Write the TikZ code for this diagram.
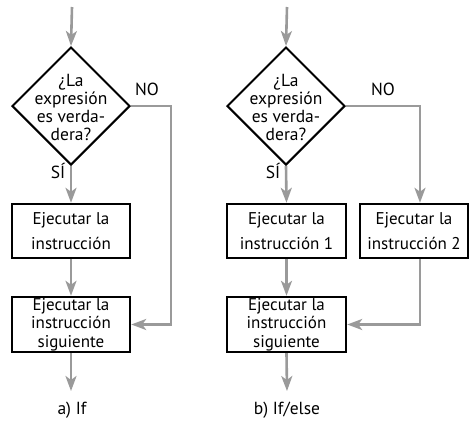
\documentclass[tikz,border=0pt]{standalone}
\usepackage{fontspec}
\setmainfont{PT Sans}
\usetikzlibrary{shapes.geometric,arrows.meta}
\definecolor{arrgray}{HTML}{9A9A9A}
\tikzset{
  arr/.style={draw=arrgray, line width=2.6pt, -{Stealth[length=15pt,width=11pt,inset=4pt]}},
  dec/.style={draw, line width=2pt, shape=diamond, aspect=1, minimum width=118pt, minimum height=118pt, inner sep=0pt},
  dectext/.style={align=center, font=\fontsize{17.5}{18}\selectfont, inner sep=0pt},
  box/.style={draw, line width=2.4pt, rectangle, inner sep=0pt, align=center},
  boxtwo/.style={box, font=\fontsize{17}{25}\selectfont},
  boxthree/.style={box, font=\fontsize{17}{18.5}\selectfont},
  lbl/.style={font=\fontsize{17.5}{18}\selectfont, inner sep=0pt}
}
\begin{document}
\begin{tikzpicture}[x=1pt,y=-1pt]
\useasboundingbox (0,0) rectangle (469,421);
% ---- left panel: If ----
\coordinate (s1) at (72,7);
\node[dec] (d1) at (71,106) {};
\node[dectext] (d1t) at (71,107) {¿La\\expresión\\es verda-\\dera?};
\node[boxtwo, minimum width=118pt, minimum height=54pt] (b1) at (71,231) {Ejecutar la\\instrucción};
\node[boxthree, minimum width=118pt, minimum height=55pt] (b2) at (71,324.5) {Ejecutar la\\instrucción\\siguiente};
\coordinate (e1) at (71,391);
\coordinate (n1) at (171,106);
\node[lbl] (si1) at (58,171) {SÍ};
\node[lbl] (no1) at (147,89) {NO};
\node[lbl] (cap1) at (72,410) {a) If};
\draw[arr] (s1) -- (d1.north);
\draw[arr] (d1.south) -- (b1.north);
\draw[arr] (b1.south) -- (b2.north);
\draw[arr] (b2.south) -- (e1);
\draw[arr] (d1.east) -- (n1) |- (b2.east);
% ---- right panel: If/else ----
\coordinate (s2) at (287,7);
\node[dec] (d2) at (286,106) {};
\node[dectext] (d2t) at (286,107) {¿La\\expresión\\es verda-\\dera?};
\node[boxtwo, minimum width=119pt, minimum height=54pt] (b3) at (286.5,231) {Ejecutar la\\instrucción 1};
\node[boxtwo, minimum width=108pt, minimum height=54pt] (b4) at (414,231) {Ejecutar la\\instrucción 2};
\node[boxthree, minimum width=119pt, minimum height=55pt] (b5) at (286.5,324.5) {Ejecutar la\\instrucción\\siguiente};
\coordinate (e2) at (287,391);
\coordinate (n2) at (420,106);
\coordinate (m2) at (420,324.5);
\node[lbl] (si2) at (273,171) {SÍ};
\node[lbl] (no2) at (383,89) {NO};
\node[lbl] (cap2) at (287,410) {b) If/else};
\draw[arr] (s2) -- (d2.north);
\draw[arr] (d2.south) -- (b3.north);
\draw[arr] (b3.south) -- (b5.north);
\draw[arr] (b5.south) -- (e2);
\draw[arr] (d2.east) -- (n2) -- (n2 |- b4.north);
\draw[arr] (b4.south -| m2) -- (m2) -- (b5.east);
\end{tikzpicture}
\end{document}
